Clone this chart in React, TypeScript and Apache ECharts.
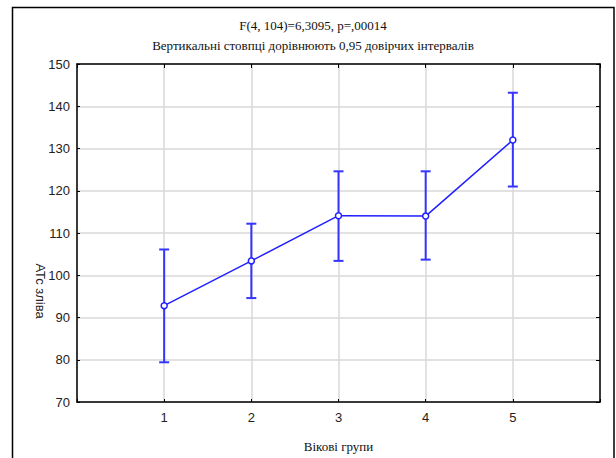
import React, { useEffect, useRef } from "react";
import * as echarts from "echarts";

const titleLine1 = "F(4, 104)=6,3095, p=,00014";
const titleLine2 = "Вертикальні стовпці дорівнюють 0,95 довірчих інтервалів";
const xAxisName = "Вікові групи";
const yAxisName = "АТс зліва";

const groups = [1, 2, 3, 4, 5];
const means = [92.8, 103.4, 114.1, 114.0, 132.0];
const ciLow = [79.4, 94.6, 103.4, 103.7, 121.0];
const ciHigh = [106.1, 112.2, 124.6, 124.6, 143.2];

const xMin = 0;
const xMax = 6;
const yMin = 70;
const yMax = 150;
const yStep = 10;

const BLUE = "#1f1fff";
const BAR_BLUE = "#3535ff";
const GRID = "#d9d9d9";
const SERIF = "Liberation Serif";
const SANS = "Liberation Sans";

export default function App() {
  const ref = useRef<HTMLDivElement>(null);
  useEffect(() => {
    if (!ref.current) return;
    const chart = echarts.init(ref.current, undefined, { renderer: "svg" });
    const lineData = groups.map((g, i) => [g, means[i]]);
    const errData = groups.map((g, i) => [g, ciLow[i], ciHigh[i]]);
    const axisLabelStyle = { color: "#222", fontFamily: SANS, fontSize: 13 };
    chart.setOption({
      animation: false,
      backgroundColor: "#fff",
      grid: { left: 77, right: 16, top: 64, bottom: 55, show: false },
      graphic: [
        {
          type: "rect",
          shape: { x: 12.5, y: 7.5, width: 601.5, height: 470 },
          style: { fill: "none", stroke: "#000", lineWidth: 1.5 },
          silent: true,
          z: 100,
        },
        {
          type: "text",
          x: 313,
          y: 25,
          style: { text: titleLine1, fontFamily: SERIF, fontSize: 13, fill: "#111", align: "center", verticalAlign: "middle" },
        },
        {
          type: "text",
          x: 313,
          y: 45,
          style: { text: titleLine2, fontFamily: SERIF, fontSize: 13, fill: "#111", align: "center", verticalAlign: "middle" },
        },
        {
          type: "text",
          x: 40,
          y: 291,
          rotation: -Math.PI / 2,
          style: { text: yAxisName, fontFamily: SANS, fontSize: 13, fill: "#222", align: "center", verticalAlign: "middle" },
        },
      ],
      xAxis: [
        {
          type: "value",
          position: "bottom",
          min: xMin,
          max: xMax,
          interval: 1,
          name: xAxisName,
          nameLocation: "middle",
          nameGap: 38,
          nameTextStyle: { color: "#111", fontFamily: SERIF, fontSize: 13 },
          axisLine: { show: true, onZero: false, lineStyle: { color: "#000", width: 1.5 } },
          axisTick: { show: true, inside: true, length: 3, lineStyle: { color: "#000" } },
          axisLabel: {
            ...axisLabelStyle,
            margin: 9,
            formatter: (v: number) => (groups.indexOf(v) >= 0 ? String(v) : ""),
          },
          splitLine: { show: true, lineStyle: { color: GRID, width: 1.5 } },
        },
        {
          type: "value",
          position: "top",
          min: xMin,
          max: xMax,
          interval: 1,
          axisLine: { show: true, onZero: false, lineStyle: { color: "#000", width: 1.5 } },
          axisTick: { show: true, inside: true, length: 4, lineStyle: { color: "#000" } },
          axisLabel: { show: false },
          splitLine: { show: false },
        },
      ],
      yAxis: [
        {
          type: "value",
          position: "left",
          min: yMin,
          max: yMax,
          interval: yStep,
          axisLine: { show: true, onZero: false, lineStyle: { color: "#000", width: 1.5 } },
          axisTick: { show: true, inside: true, length: 3, lineStyle: { color: "#000" } },
          axisLabel: { ...axisLabelStyle, margin: 7 },
          splitLine: { show: true, lineStyle: { color: GRID, width: 1.5 } },
        },
        {
          type: "value",
          position: "right",
          min: yMin,
          max: yMax,
          interval: yStep,
          axisLine: { show: true, onZero: false, lineStyle: { color: "#000", width: 1.5 } },
          axisTick: { show: true, inside: true, length: 4, lineStyle: { color: "#000" } },
          axisLabel: { show: false },
          splitLine: { show: false },
        },
      ],
      series: [
        {
          type: "custom",
          xAxisIndex: 0,
          yAxisIndex: 0,
          data: errData,
          z: 2,
          renderItem: (_params: any, api: any) => {
            const x = api.value(0);
            const lo = api.coord([x, api.value(1)]);
            const hi = api.coord([x, api.value(2)]);
            const hw = 5;
            const style = { stroke: BAR_BLUE, lineWidth: 2 };
            return {
              type: "group",
              children: [
                { type: "line", shape: { x1: lo[0], y1: lo[1], x2: hi[0], y2: hi[1] }, style },
                { type: "line", shape: { x1: lo[0] - hw, y1: lo[1], x2: lo[0] + hw, y2: lo[1] }, style },
                { type: "line", shape: { x1: hi[0] - hw, y1: hi[1], x2: hi[0] + hw, y2: hi[1] }, style },
              ],
            };
          },
        },
        {
          type: "line",
          xAxisIndex: 0,
          yAxisIndex: 0,
          data: lineData,
          z: 3,
          symbol: "circle",
          symbolSize: 6,
          lineStyle: { color: BLUE, width: 1.5 },
          itemStyle: { color: "#fff", borderColor: BLUE, borderWidth: 1.5 },
        },
      ],
    });
    return () => chart.dispose();
  }, []);
  return (
    <div
      ref={ref}
      style={{ position: "fixed", left: 0, top: 0, width: 616, height: 458, background: "#fff" }}
    />
  );
}
